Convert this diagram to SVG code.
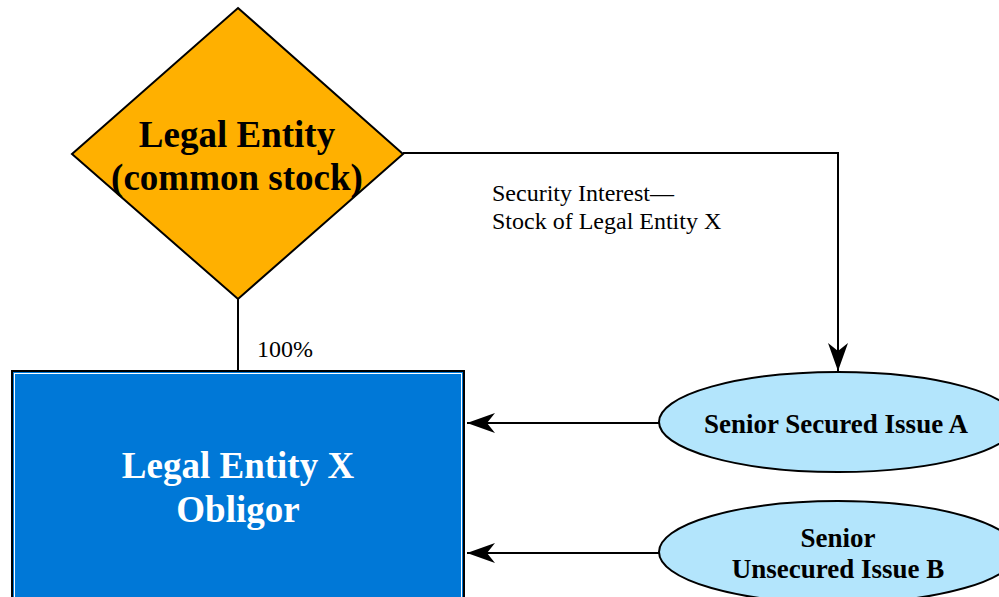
<svg xmlns="http://www.w3.org/2000/svg" width="999" height="597" viewBox="0 0 999 597">
  <defs>
    <marker id="arrow" viewBox="0 0 28 20" refX="28" refY="10" markerWidth="28" markerHeight="20" markerUnits="userSpaceOnUse" orient="auto">
      <path d="M0,0 L28,10 L0,20 L8,10 Z" fill="#000"/>
    </marker>
  </defs>
  <style>
    .edge { fill: none; stroke: #000; stroke-width: 2; }
    .title { font-family: "Liberation Serif", "Times New Roman", serif; font-weight: bold; text-anchor: middle; }
    .label { font-family: "Liberation Serif", "Times New Roman", serif; font-size: 24px; fill: #000; }
  </style>
  <rect width="999" height="597" fill="#fff"/>

  <g id="connectors">
    <line class="edge" x1="238" y1="299" x2="238" y2="371"/>
    <polyline class="edge" points="403,153 838,153 838,371" marker-end="url(#arrow)"/>
    <line class="edge" x1="659" y1="423" x2="467" y2="423" marker-end="url(#arrow)"/>
    <line class="edge" x1="659" y1="553" x2="467" y2="553" marker-end="url(#arrow)"/>
    <text class="label" x="257" y="357">100%</text>
    <text class="label" x="492" y="201">Security Interest—</text>
    <text class="label" x="492" y="229">Stock of Legal Entity X</text>
  </g>

  <g id="parent-entity">
    <polygon points="238,8 403,154 238,299 72,154" fill="#FFB000" stroke="#000" stroke-width="2"/>
    <text class="title" x="237" y="147" font-size="37" fill="#000">Legal Entity</text>
    <text class="title" x="237" y="190" font-size="37" fill="#000">(common stock)</text>
  </g>

  <g id="obligor">
    <rect x="12" y="371" width="452" height="240" fill="#0078D7" stroke="#000" stroke-width="2"/>
    <rect x="14.5" y="373.5" width="447" height="240" fill="none" stroke="#fff" stroke-width="1"/>
    <text class="title" x="238" y="478" font-size="37" fill="#fff">Legal Entity X</text>
    <text class="title" x="238" y="522" font-size="37" fill="#fff">Obligor</text>
  </g>

  <g id="issue-a">
    <ellipse cx="838" cy="422" rx="179" ry="50" fill="#B3E5FC" stroke="#000" stroke-width="2"/>
    <text class="title" x="836" y="433" font-size="27" fill="#000">Senior Secured Issue A</text>
  </g>

  <g id="issue-b">
    <ellipse cx="838" cy="552" rx="179" ry="51" fill="#B3E5FC" stroke="#000" stroke-width="2"/>
    <text class="title" x="838" y="547" font-size="27" fill="#000">Senior</text>
    <text class="title" x="838" y="578" font-size="27" fill="#000">Unsecured Issue B</text>
  </g>
</svg>
